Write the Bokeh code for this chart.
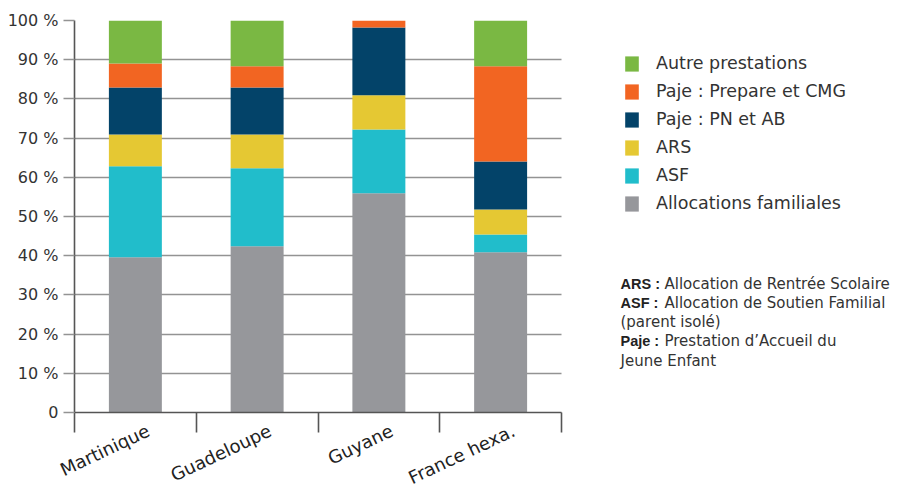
from bokeh.plotting import figure
from bokeh.models import ColumnDataSource, Range1d, FixedTicker, Legend, LegendItem, Label, Grid
from bokeh.embed import file_html
from bokeh.resources import INLINE

# ---- data ----
categories = ["Martinique", "Guadeloupe", "Guyane", "France hexa."]
series = ["Allocations familiales", "ASF", "ARS", "Paje : PN et AB",
          "Paje : Prepare et CMG", "Autre prestations"]
alloc_familiales = [39.6, 42.4, 55.9, 40.9]
asf = [23.2, 19.9, 16.3, 4.5]
ars = [8.1, 8.6, 8.7, 6.4]
paje_pn_ab = [12.0, 12.0, 17.3, 12.2]
paje_prepare_cmg = [6.1, 5.4, 1.8, 24.3]
autre_prestations = [11.0, 11.7, 0.0, 11.7]
colors = ["#96979b", "#21bdcb", "#e5c833", "#034369", "#f26522", "#7ab843"]
y_ticks = [0, 10, 20, 30, 40, 50, 60, 70, 80, 90, 100]
y_tick_labels = ["0", "10 %", "20 %", "30 %", "40 %", "50 %", "60 %",
                 "70 %", "80 %", "90 %", "100 %"]
note_bold = ["ARS :", "ASF :", "", "Paje :", ""]
note_text = ["Allocation de Rentrée Scolaire", "Allocation de Soutien Familial",
             "(parent isolé)", "Prestation d\u2019Accueil du", "Jeune Enfant"]

FONT = "DejaVu Sans"
TXT = "#333333"

# ---- layout (pixels) ----
W, H = 895, 490
LEFT, TOP, BOTTOM = 74, 20, 412
CAT_PX = 121.75
FRAME_W = W - LEFT
FRAME_H = BOTTOM - TOP
n = len(categories)
x_end = FRAME_W / CAT_PX
px_per_pct = FRAME_H / 100.0

keys = ["s%d" % i for i in range(len(series))]
values = [alloc_familiales, asf, ars, paje_pn_ab, paje_prepare_cmg, autre_prestations]
data = {"x": [i + 0.5 for i in range(n)]}
for k, v in zip(keys, values):
    data[k] = v
src = ColumnDataSource(data)

p = figure(frame_width=FRAME_W, frame_height=FRAME_H, output_backend="svg",
           toolbar_location=None,
           x_range=Range1d(0, x_end), y_range=Range1d(0, 100),
           min_border_left=LEFT, min_border_top=TOP, min_border_bottom=H - BOTTOM,
           min_border_right=0)
p.outline_line_color = None
p.background_fill_color = "white"
p.border_fill_color = "white"

renderers = p.vbar_stack(keys, x="x", width=0.435, color=colors, source=src,
                         line_width=0)

# grid
p.xgrid.grid_line_color = None
yg = p.ygrid[0]
yg.ticker = FixedTicker(ticks=y_ticks)
yg.grid_line_color = "#939393"
yg.grid_line_width = 1.6
yg.level = "underlay"
if "cross_bounds" in Grid.properties():
    yg.cross_bounds = (0, n)

# y axis
ya = p.yaxis[0]
ya.ticker = FixedTicker(ticks=y_ticks)
ya.major_label_overrides = {t: l for t, l in zip(y_ticks, y_tick_labels)}
ya.major_tick_out = 11
ya.major_tick_in = 0
ya.minor_tick_out = 0
ya.minor_tick_in = 0
ya.major_tick_line_color = "#939393"
ya.major_tick_line_width = 1.6
ya.axis_line_color = "#555555"
ya.axis_line_width = 1.6
ya.major_label_standoff = 5
ya.major_label_text_font = FONT
ya.major_label_text_font_size = "16px"
ya.major_label_text_color = TXT

# x axis
label_shift = 13 / CAT_PX
label_pos = [round(i + 0.5 + label_shift, 4) for i in range(n)]
xa = p.xaxis[0]
xa.bounds = (0, n)
xa.ticker = FixedTicker(ticks=label_pos, minor_ticks=list(range(n + 1)))
xa.major_label_overrides = {t: c for t, c in zip(label_pos, categories)}
xa.major_tick_out = 0
xa.major_tick_in = 0
xa.minor_tick_out = 20
xa.minor_tick_in = 0
xa.minor_tick_line_color = "#555555"
xa.minor_tick_line_width = 1.6
xa.axis_line_color = "#555555"
xa.axis_line_width = 1.6
xa.major_label_orientation = 0.44
xa.major_label_standoff = -3
xa.major_label_text_font = FONT
xa.major_label_text_font_size = "18px"
xa.major_label_text_color = "#222222"

# legend
items = [LegendItem(label=s, renderers=[r]) for s, r in zip(series, renderers)][::-1]
legend = Legend(items=items, location=(623 - LEFT, BOTTOM - 213),
                glyph_width=17, glyph_height=19,
                label_height=19, spacing=8, label_standoff=16, padding=0, margin=0,
                border_line_alpha=0, background_fill_alpha=0,
                label_text_font=FONT, label_text_font_size="17.5px",
                label_text_color=TXT)
p.add_layout(legend)

# notes
def to_x(px):
    return (px - LEFT) / CAT_PX

def to_y(py):
    return (BOTTOM - py) / px_per_pct

for i, (b, t) in enumerate(zip(note_bold, note_text)):
    py = 283 + 19.3 * i
    if b:
        p.add_layout(Label(x=to_x(620), y=to_y(py), text=b,
                           text_font="Liberation Sans", text_font_style="bold",
                           text_font_size="14.5px",
                           text_color="#222222", text_baseline="middle"))
    p.add_layout(Label(x=to_x(664 if b else 620), y=to_y(py),
                       text=t, text_font=FONT, text_font_size="15px",
                       text_color=TXT, text_baseline="middle"))

open("out.html", "w").write(file_html(p, INLINE))
